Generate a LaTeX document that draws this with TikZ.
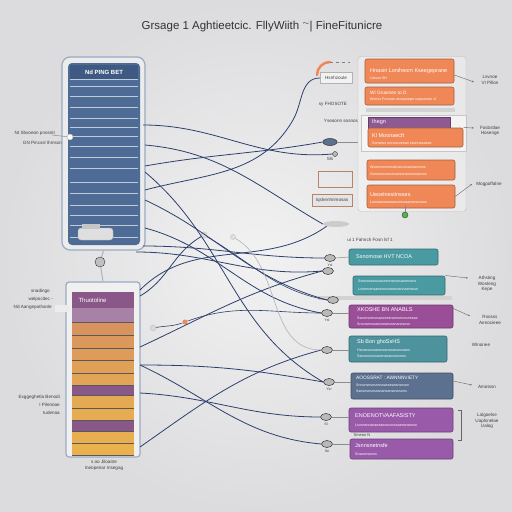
\documentclass[tikz,border=0pt]{standalone}
\usepackage{fontspec}
\setmainfont{Liberation Sans}
\usetikzlibrary{arrows.meta,shapes.geometric}
\definecolor{bg}{HTML}{E4E4E6}
\definecolor{bgc}{HTML}{F2F2F3}
\definecolor{panelblue}{HTML}{4D6B94}
\definecolor{panelhead}{HTML}{3F5A82}
\definecolor{frame}{HTML}{9AAAC2}
\definecolor{wire}{HTML}{2D3F6C}
\definecolor{orng}{HTML}{EF8757}
\definecolor{purp}{HTML}{8E5A93}
\definecolor{teal}{HTML}{4A9AA2}
\definecolor{magn}{HTML}{9A4E98}
\definecolor{slate}{HTML}{5C7090}
\definecolor{viol}{HTML}{9A5AAA}
\definecolor{ochreA}{HTML}{D9935E}
\definecolor{ochreB}{HTML}{E9B24F}
\definecolor{rowpurp}{HTML}{8A5888}
\begin{document}
\begin{tikzpicture}[x=1pt,y=-1pt,
  cbox/.style={draw=#1!70!black, line width=0.6pt, fill=#1, rounded corners=2pt, inner sep=0pt},
  btxt/.style={font=\fontsize{5.5}{6}\selectfont, text=white, anchor=west, inner sep=0pt},
  stxt/.style={font=\fontsize{3.6}{4}\selectfont, text=white!90, anchor=west, inner sep=0pt},
  lbl/.style={font=\fontsize{4.6}{5.6}\selectfont, text=black!75, align=center, inner sep=0pt},
  wirestyle/.style={draw=wire, line width=0.8pt},
  knob/.style={ellipse, minimum width=11pt, minimum height=7pt, inner sep=0pt, fill=gray!55, draw=gray!40!black, line width=0.5pt},
  leader/.style={draw=black!60, line width=0.4pt, -{Stealth[length=2pt]}}
]
\useasboundingbox (0,0) rectangle (512,512);
\shade[inner color=bgc, outer color=bg!92!gray] (0,0) rectangle (512,512);

% title
\node[font=\fontsize{11.5}{13}\selectfont, text=black!80] (title) at (262,27) {Grsage 1 Aghtieetcic. FllyWiith ${}^{\sim}$| FineFitunicre};

% ---------- top-left panel ----------
\node[draw=frame, line width=1.2pt, fill=gray!15, rounded corners=8pt, minimum width=83pt, minimum height=193pt] (tp) at (103.5,153.5) {};
\fill[panelblue, rounded corners=4pt] (68,63) rectangle (140,245);
\fill[panelhead] (70,65) rectangle (138,79);
\node[font=\bfseries\fontsize{6}{7}\selectfont, text=white] (tphead) at (104,72) {Nd PING BET};
\foreach \yy in {79,86,96,107,118,127,136,146,157,168,182,193,205,215,225,237}
  \draw[white!65!panelblue, line width=1pt] (70,\yy) -- (138,\yy);
\fill[gray!25, draw=gray!60, rounded corners=3pt] (78,228) rectangle (113,240);
\fill[gray!45] (82,224) rectangle (100,229);
\node[circle, fill=white, draw=gray!60, minimum size=6pt, inner sep=0pt] (tpdot) at (70,137) {};
\draw[black!50, line width=0.4pt] (tpdot) -- (52,135);
\node[lbl, anchor=east] (tpl1) at (55,133) {Nt Sbvoeon pnosnit};
\node[lbl, anchor=east] (tpl2) at (62,143) {GN Pincssl Ihmssn};

% connector between panels
\node[circle, fill=gray!50, draw=gray!40!black, minimum size=10pt, inner sep=0pt] (mid) at (100,262) {};
\draw[gray!60, line width=1pt] (tp.south) -- (mid);

% ---------- bottom-left panel ----------
\node[draw=frame, line width=1.2pt, fill=gray!12, rounded corners=3pt, minimum width=74pt, minimum height=175pt] (bp) at (103,369.5) {};
\draw[gray!60, line width=1pt] (mid) -- (bp.north);
\fill[rowpurp] (72,292) rectangle (134,308);
\node[font=\fontsize{6}{7}\selectfont, text=white, anchor=west] (bphead) at (75,300) {Thuotoline};
\fill[rowpurp!75!white] (72,308) rectangle (134,322);
\foreach \ya/\yb/\c in {322/335/0,336/348/15,348/360/30,361/373/45,374/385/55,395/408/70,409/420/80,431/443/92,444/455/100}
  \fill[ochreB!\c!ochreA] (72,\ya) rectangle (134,\yb);
\fill[rowpurp] (72,386) rectangle (134,395);
\fill[rowpurp] (72,420) rectangle (134,431);
\foreach \yy in {322,335,348,360,373,385,395,408,420,431,443,455}
  \draw[black!65, line width=0.5pt] (72,\yy) -- (134,\yy);
\node[lbl, anchor=east] (bpl1) at (50,291) {snadingo};
\node[lbl, anchor=east] (bpl2) at (53,299) {welpocitec -};
\node[lbl, anchor=east] (bpl3) at (52,307) {Nd Aangepathanle};
\fill[white!85!gray] (55,305) rectangle (70,312);
\node[lbl, anchor=east] (bpl4) at (60,397) {Exggeghetla Benodi};
\node[lbl, anchor=east] (bpl5) at (60,405) {I Pilenoae};
\node[lbl, anchor=east] (bpl6) at (60,413) {tudenaa};
\node[lbl] (bpl7) at (104,462) {s oo Jiloaitre};
\node[lbl] (bpl8) at (104,468) {Ineopenar Insegag};

% ---------- right top group ----------
\node[draw=gray!50, fill=white, fill opacity=0.35, rounded corners=3pt, minimum width=108pt, minimum height=155pt] (grp) at (412,134) {};
\node[cbox=orng, minimum width=89pt, minimum height=24pt] (o1) at (409.5,71) {};
\node[btxt] at (370,71) {Hnasin Loniheom Kseegeprane};
\node[stxt] at (370,78) {Uteuor SH};
\node[cbox=orng, minimum width=89pt, minimum height=18pt] (o2) at (409.5,96) {};
\node[btxt, font=\fontsize{4.8}{5}\selectfont] at (370,93) {Wl Gnasnes to D};
\node[stxt] at (370,100) {Wsnsu Fsrsnae ansanoepe sospvnean sl};
\fill[gray!35] (366,108) rectangle (455,112);
\node[draw=gray!45, fill=white, fill opacity=0.5, minimum width=105pt, minimum height=36pt] (glow) at (414,133) {};
\node[cbox=purp, minimum width=82pt, minimum height=11pt, rounded corners=0pt] (p1) at (409,122.5) {};
\node[btxt] at (372,122.5) {Ihegn};
\node[cbox=orng, minimum width=95pt, minimum height=19pt] (o3) at (415.5,137.5) {};
\node[btxt] at (372,136) {Kl Moonaecft};
\node[stxt] at (372,143) {Sonsnes nncnocoenan esonnaeaeae};
\node[cbox=orng, minimum width=88pt, minimum height=20pt] (o4) at (411,170) {};
\node[stxt] at (370,167) {Wsonnsnsnesdsnsnsnsaneansnns};
\node[stxt] at (370,174) {Gesessnsensnsanesnsnesnoansns};
\node[cbox=orng, minimum width=88pt, minimum height=23pt] (o5) at (411,196.5) {};
\node[btxt] at (370,195) {Ueoelnestinsses};
\node[stxt] at (370,202) {Leonaeneaneanseesnsaneesnsnes};
\draw[orng, line width=2.5pt, line cap=round] (317,75) to[out=90,in=180] (330,62);
\draw[black!50, line width=0.4pt, dashed] (330,62) -- (350,62);
\node[draw=gray!60, fill=white!90!gray, minimum width=32pt, minimum height=11pt, inner sep=0pt] (hs) at (336,78) {};
\node[lbl] at (336,78) {Hsnhzoule};
\node[lbl] (r1) at (333,104) {sy FHOSOTE};
\node[lbl] (r2) at (341,121) {Yseoonn sosnos};
\node[lbl] (r3) at (330,159) {Sls};
\node[draw=orng!50!gray, minimum width=34pt, minimum height=16pt] (hb) at (335,179) {};
\node[draw=orng!50!gray, minimum width=40pt, minimum height=12pt, fill=white!80!gray] (iq) at (332,200) {};
\node[lbl] at (332,200) {Iqshenhrimosas};
\node[lbl] (rl1) at (490,80) {Lsvnoe\\VI Pillon};
\node[lbl] (rl2) at (490,131) {Fosbstlae\\Hosenge};
\node[lbl] (rl3) at (489,184) {Mogpoffalne};
\draw[leader] (o1.east) ++(0,4) -- (474,82);
\draw[leader] (o3.east) ++(0,-10) -- (474,128);
\draw[leader] (o5.east) -- (472,184);

% ---------- right middle / bottom boxes ----------
\node[lbl] (mt) at (370,240) {ui 1 Fahnch Fosn lsf 1};
\node[circle, fill=green!45!gray, draw=gray!50!black, minimum size=6pt, inner sep=0pt] (gk) at (405,215) {};
\node[ellipse, fill=gray!40, minimum width=26pt, minimum height=6pt, inner sep=0pt] (blob) at (336,224) {};
\node[cbox=teal, minimum width=89pt, minimum height=16pt] (t1) at (393.5,257) {};
\node[btxt] at (356,257) {Ssnomose HVT NCOA};
\node[cbox=teal, minimum width=92pt, minimum height=19pt] (t2) at (399,285.5) {};
\node[stxt] at (358,281) {Ssnnonasnsnasnsnnsnsnsanenssns};
\node[stxt] at (358,289) {Lsnenvsnsanesnsnanesnsnnaensnsn};
\fill[gray!35] (318,296) rectangle (452,300);
\node[cbox=magn, minimum width=104pt, minimum height=23pt] (m1) at (401,316.5) {};
\node[btxt] at (357,310) {XKOSHE BN ANABLS};
\node[stxt] at (357,318) {Ssnonsnesnsanonesnsnesnsnsnneas};
\node[stxt] at (357,324) {Snonsnnsnansneansnsnanesnsn};
\node[cbox=teal!80!slate, minimum width=98pt, minimum height=26pt] (t3) at (398,349) {};
\node[btxt] at (357,342) {Sb Bon ghoSsHS};
\node[stxt] at (357,350) {Hsnsnsnsnanesnsnsnansnsnans};
\node[stxt] at (357,356) {Ssnsnnsnsnansnsnanesnsnns};
\node[cbox=slate, minimum width=102pt, minimum height=26pt] (s1) at (402,386) {};
\node[btxt, font=\fontsize{4.8}{5}\selectfont] at (356,378) {AOOSSRAT : AWNNNVIETY};
\node[stxt] at (356,385) {Snnonsnsnsnnsnanoeansnsnsnn};
\node[stxt] at (356,391) {Ssnonsnsnsnsnaneansnsnsnns};
\node[cbox=viol, minimum width=104pt, minimum height=24pt] (v1) at (401,420) {};
\node[btxt] at (355,416) {ENOENOTVAAFASISTY};
\node[stxt] at (355,425) {Lsnsnsnnsnaneansnsnsnnaensnsnnsn};
\node[lbl, font=\fontsize{4}{5}\selectfont] (sm) at (362,435) {Smeon N};
\node[cbox=viol, minimum width=103pt, minimum height=20pt] (v2) at (401.5,449) {};
\node[btxt] at (355,446) {Jsnnsnetnsfe};
\node[stxt] at (355,454) {Snsnonsnsns};
\draw[black!60, line width=0.5pt] (458,410) -- (461,410) -- (461,440) -- (458,440);
\node[lbl] (ml1) at (487,284) {Athsting\\Wosteng\\Kepe};
\node[lbl] (ml2) at (490,320) {Rsosss\\Aenocieee};
\node[lbl] (ml3) at (481,345) {Wlnonee};
\node[lbl] (ml4) at (487,387) {Amotssn};
\node[lbl] (ml5) at (487,421) {Lalgoelse\\Uaplsnelae\\Ualog};
\draw[leader] (t2.east) ++(0,-10) -- (468,278);
\draw[leader] (m1.east) ++(0,-8) -- (470,316);
\draw[leader] (s1.east) ++(0,-5) -- (472,385);

% ---------- knobs ----------
\node[knob] (k1) at (330,258) {};
\node[knob] (k2) at (328,271) {};
\node[knob] (k3) at (333,300) {};
\node[knob] (k4) at (327,313) {};
\node[knob] (k5) at (327,350) {};
\node[knob] (k6) at (329,382) {};
\node[knob] (k7) at (326,417) {};
\node[knob] (k8) at (327,444) {};
\node[knob, fill=panelblue!70!gray, minimum width=14pt] (k9) at (330,142) {};
\node[circle, fill=gray!55, draw=gray!40!black, minimum size=5pt, inner sep=0pt] (k10) at (335,154) {};
\node[circle, fill=gray!30, draw=gray!50, minimum size=6pt, inner sep=0pt] (k11) at (153,328) {};
\node[circle, fill=orng, minimum size=5pt, inner sep=0pt] (od) at (185,322) {};
\node[circle, minimum size=6pt, inner sep=0pt, fill=gray!25, draw=gray!50] (k12) at (204,235) {};
\node[circle, minimum size=5pt, inner sep=0pt, fill=gray!25, draw=gray!50] (k13) at (233,237) {};
\foreach \k/\t in {k1/Ysl,k4/Ysl,k6/Ysr,k7/Sl,k8/Se}
  \node[lbl, font=\fontsize{3.6}{4}\selectfont, anchor=north] at ([yshift=-2pt]\k.south) {\t};

% ---------- wires ----------
\coordinate (a0) at (143,125);
\coordinate (a1) at (145,145);
\coordinate (a2) at (145,166);
\coordinate (a3) at (145,172);
\coordinate (a4) at (145,190);
\coordinate (a5) at (145,200);
\coordinate (a6) at (145,228);
\coordinate (a7) at (143,246);
\coordinate (a8) at (136,252);
\coordinate (b0) at (140,290);
\coordinate (b1) at (140,296);
\coordinate (b2) at (140,347);
\coordinate (b3) at (140,365);
\coordinate (b4) at (140,393);
\coordinate (b5) at (140,447);
\coordinate (c1) at (293,120);
\draw[wirestyle] (a0) to[out=0,in=185] (k10.west);
\draw[wirestyle] (a2) to[out=10,in=190] (k9.west);
\draw[wirestyle] (a4) to[out=15,in=-120] (c1) to[out=60,in=180] (hs.west);
\draw[wirestyle] (a1) to[out=-5,in=150] (blob.west);
\draw[wirestyle] (a3) to[out=-40,in=150] (k6.west);
\draw[wirestyle] (a5) to[out=-25,in=165] (k3.west);
\draw[wirestyle] (a6) to[out=-15,in=170] (k4.west);
\draw[wirestyle] (a7) to[out=0,in=180] (k1.west);
\draw[wirestyle] (a8) to[out=0,in=185] (k2.west);
\draw[wirestyle] (b0) to[out=45,in=215] (blob.south west);
\draw[wirestyle] (b1) to[out=30,in=210] (k12);
\draw[wirestyle] (b2) to[out=25,in=195] (k2.west);
\draw[wirestyle] (b3) to[out=0,in=170] (k6.west);
\draw[wirestyle] (b3) to[out=-25,in=175] (k8.west);
\draw[wirestyle] (b4) to[out=-3,in=180] (k7.west);
\draw[wirestyle] (b5) to[out=35,in=195] (k5.west);
\draw[wirestyle, line width=0.6pt] (k11) to[out=10,in=200] (od) to[out=20,in=180] (k4.west);
\draw[wirestyle, line width=0.6pt] (k12) to[out=-30,in=170] (k3.west);
\draw[gray!60, line width=0.6pt] (k13) to[out=-30,in=180] (k5.west);
\draw[black!45, line width=0.5pt] (k9.east) -- (grp.west |- k9);
\draw[black!45, line width=0.5pt] (k1.east) -- (t1.west);
\draw[black!45, line width=0.5pt] (k4.east) -- (m1.west |- k4);
\draw[black!45, line width=0.5pt] (k5.east) -- (t3.west |- k5);
\draw[black!45, line width=0.5pt] (k6.east) -- (s1.west |- k6);
\draw[black!45, line width=0.5pt] (k7.east) -- (v1.west |- k7);
\draw[black!45, line width=0.5pt] (k8.east) -- (v2.west |- k8);
\draw[black!45, line width=0.5pt] (gk) -- (405,205);
\end{tikzpicture}
\end{document}
